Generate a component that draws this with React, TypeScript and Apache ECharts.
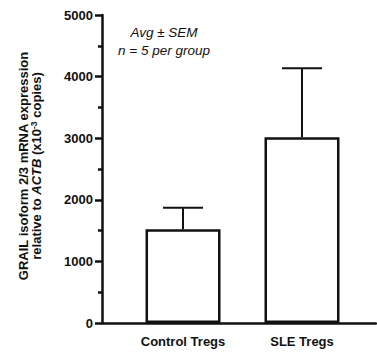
import React, { useEffect, useRef } from "react";
import * as echarts from "echarts";

const categories = ["Control Tregs", "SLE Tregs"];
const means = [1520, 3015];
const sems = [350, 1120];
const yTicks = { min: 0, max: 5000, interval: 1000 };
const noteLines = ["Avg ± SEM", "n = 5 per group"];

const FONT = "'Liberation Sans', Arial, Helvetica, sans-serif";
const INK = "#111";

export default function App() {
  const ref = useRef<HTMLDivElement>(null);
  useEffect(() => {
    if (!ref.current) return;
    const chart = echarts.init(ref.current, null, { renderer: "svg" });
    const barData = categories.map((_, i) => [i + 1, means[i]]);
    const errData = categories.map((_, i) => [i + 1, means[i], means[i] + sems[i]]);
    chart.setOption({
      animation: false,
      grid: { left: 102, right: 1, top: 15, bottom: 29, containLabel: false },
      xAxis: {
        type: "value",
        min: 0.319,
        max: 2.622,
        splitLine: { show: false },
        axisLine: { show: true, onZero: false, lineStyle: { color: INK, width: 2.5 } },
        axisTick: { show: false },
        axisLabel: {
          customValues: categories.map((_, i) => i + 1),
          formatter: (v: number) => categories[Math.round(v) - 1] ?? "",
          color: INK,
          fontFamily: FONT,
          fontWeight: "bold",
          fontSize: 13,
          margin: 12,
        },
      },
      yAxis: {
        type: "value",
        min: yTicks.min,
        max: yTicks.max,
        interval: yTicks.interval,
        splitLine: { show: false },
        axisLine: { show: true, lineStyle: { color: INK, width: 2.5 } },
        axisTick: { show: true, length: 7, lineStyle: { color: INK, width: 2.5 } },
        minorTick: { show: true, splitNumber: 2, length: 4, lineStyle: { color: INK, width: 2.5 } },
        axisLabel: {
          formatter: (v: number) => String(v),
          color: INK,
          fontFamily: FONT,
          fontWeight: "bold",
          fontSize: 13,
          margin: 9,
        },
      },
      series: [
        {
          type: "bar",
          data: barData,
          barWidth: 75,
          itemStyle: { color: "#fff", borderColor: INK, borderWidth: 2.5 },
          z: 2,
        },
        {
          type: "custom",
          data: errData,
          z: 1,
          renderItem: (params: any, api: any) => {
            const x = api.value(0);
            const base = api.coord([x, api.value(1)]);
            const top = api.coord([x, api.value(2)]);
            const hw = 20;
            const style = { stroke: INK, lineWidth: 2 };
            return {
              type: "group",
              children: [
                { type: "line", shape: { x1: base[0], y1: base[1], x2: top[0], y2: top[1] }, style },
                { type: "line", shape: { x1: top[0] - hw, y1: top[1], x2: top[0] + hw, y2: top[1] }, style },
              ],
            };
          },
        },
      ],
      graphic: [
        {
          type: "text",
          x: 164,
          y: 32,
          style: {
            text: noteLines[0],
            font: `italic 13.5px ${FONT}`,
            fill: INK,
            align: "center",
            verticalAlign: "middle",
          },
        },
        {
          type: "text",
          x: 164,
          y: 50,
          style: {
            text: noteLines[1],
            font: `italic 13.5px ${FONT}`,
            fill: INK,
            align: "center",
            verticalAlign: "middle",
          },
        },
        {
          type: "text",
          x: 29.5,
          y: 166,
          rotation: Math.PI / 2,
          style: {
            text:
              "{b|GRAIL isoform 2/3 mRNA expression}\n{b|relative to }{i|ACTB}{b| (x10}{s|-3}{b| copies)}",
            align: "center",
            verticalAlign: "middle",
            fill: INK,
            rich: {
              b: { fontFamily: FONT, fontWeight: "bold", fontSize: 13, lineHeight: 13, fill: INK },
              i: { fontFamily: FONT, fontWeight: "bold", fontStyle: "italic", fontSize: 13, lineHeight: 13, fill: INK },
              s: { fontFamily: FONT, fontWeight: "bold", fontSize: 8.5, lineHeight: 13, verticalAlign: "top", fill: INK },
            },
          },
        },
      ],
    });
    return () => chart.dispose();
  }, []);
  return (
    <div
      ref={ref}
      style={{ position: "fixed", left: 0, top: 0, width: 377, height: 352, background: "#fff" }}
    />
  );
}
